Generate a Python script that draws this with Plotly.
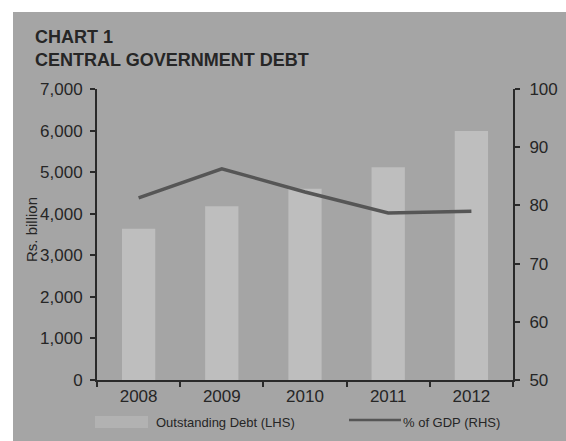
import plotly.graph_objects as go

years = ["2008", "2009", "2010", "2011", "2012"]
debt = [3640, 4180, 4600, 5120, 5990]
pct_gdp = [81.3, 86.3, 82.3, 78.7, 79.0]
left_ticks = [0, 1000, 2000, 3000, 4000, 5000, 6000, 7000]
left_ticktext = ["0", "1,000", "2,000", "3,000", "4,000", "5,000", "6,000", "7,000"]
right_ticks = [50, 60, 70, 80, 90, 100]
series_names = ["Outstanding Debt (LHS)", "% of GDP (RHS)"]

BG = "#a5a5a5"
BAR = "#bebebe"
LINE = "#565656"
AX = "#2a2a2a"
TXT = "#262626"
FONT = "Liberation Sans"

PW, PH = 416, 291  # plot area size in px
L, T = 97, 89


def px_x(p):
    return (p - L) / PW


def px_y(p):
    return (T + PH - p) / PH


fig = go.Figure()
fig.add_trace(go.Bar(x=years, y=debt, name=series_names[0],
                     marker=dict(color=BAR, line=dict(width=0)), yaxis="y"))
fig.add_trace(go.Scatter(x=years, y=pct_gdp, name=series_names[1], mode="lines",
                         line=dict(color=LINE, width=3.5), yaxis="y2"))

axis_common = dict(ticks="outside", ticklen=5, tickcolor=AX, tickwidth=1.5,
                   showline=True, linecolor=AX, linewidth=2, showgrid=False,
                   zeroline=False)

fig.update_layout(
    width=566, height=441,
    margin=dict(l=L, r=566 - L - PW, t=T, b=441 - T - PH, autoexpand=False),
    paper_bgcolor="white", plot_bgcolor=BG,
    font=dict(family=FONT, color=TXT, size=15),
    bargap=0.6,
    showlegend=False,
    xaxis=dict(type="category", tickson="boundaries",
               tickfont=dict(size=17, color=TXT), **axis_common),
    yaxis=dict(range=[0, 7000], tickvals=left_ticks, ticktext=left_ticktext,
               ticklabelstandoff=4, tickfont=dict(size=17, color=TXT), **axis_common),
    yaxis2=dict(range=[50, 100], tickvals=right_ticks, overlaying="y", side="right",
                ticklabelstandoff=6, tickfont=dict(size=17, color=TXT), **axis_common),
    annotations=[
        dict(text="<b>CHART 1<br>CENTRAL GOVERNMENT DEBT</b>", xref="paper",
             yref="paper", x=px_x(33), y=px_y(25), xanchor="left", yanchor="top",
             align="left", showarrow=False,
             font=dict(size=18, color=TXT, family=FONT)),
        dict(text="Rs. billion", xref="paper", yref="paper", x=px_x(31), y=px_y(230),
             xanchor="center", yanchor="middle", textangle=-90, showarrow=False,
             font=dict(size=15, color=TXT, family=FONT)),
        dict(text=series_names[0], xref="paper", yref="paper", x=px_x(154), y=px_y(422),
             xanchor="left", yanchor="middle", showarrow=False,
             font=dict(size=13, color=TXT, family=FONT)),
        dict(text=series_names[1], xref="paper", yref="paper", x=px_x(401), y=px_y(422),
             xanchor="left", yanchor="middle", showarrow=False,
             font=dict(size=13, color=TXT, family=FONT)),
    ],
    shapes=[
        dict(type="rect", xref="paper", yref="paper", x0=px_x(13), x1=px_x(566),
             y0=px_y(441), y1=px_y(12), fillcolor=BG, line=dict(width=0), layer="below"),
        dict(type="rect", xref="paper", yref="paper", x0=px_x(95), x1=px_x(148),
             y0=px_y(428), y1=px_y(416), fillcolor="#b2b2b2", line=dict(width=0)),
        dict(type="line", xref="paper", yref="paper", x0=px_x(349), x1=px_x(401),
             y0=px_y(420), y1=px_y(420), line=dict(color=LINE, width=2.5)),
    ],
)

fig.write_html("out.html")
